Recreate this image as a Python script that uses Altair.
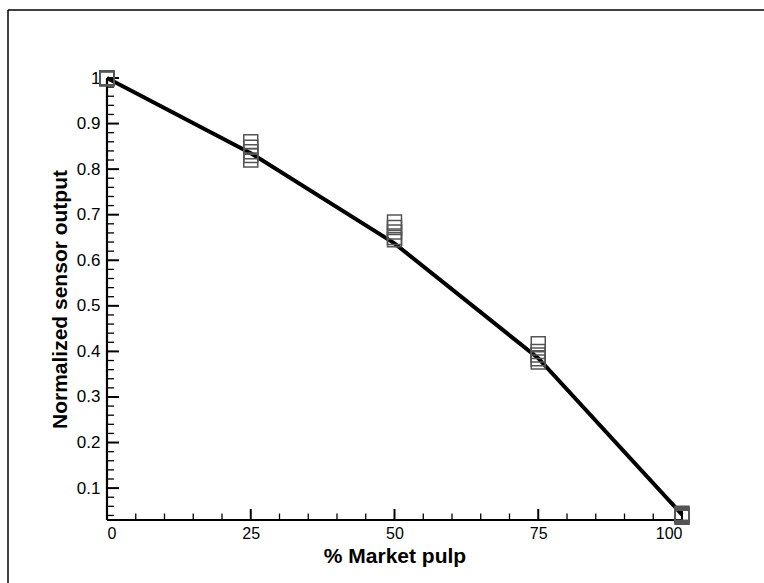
import altair as alt
import pandas as pd

# Replicate measurements of normalized sensor output at each pulp blend
pulp_levels = [0, 25, 50, 75, 100]
replicates = [
    [1.000, 1.000, 1.000, 0.999, 0.998],
    [0.860, 0.848, 0.838, 0.830, 0.820],
    [0.684, 0.672, 0.662, 0.650, 0.645],
    [0.417, 0.400, 0.392, 0.384, 0.377],
    [0.045, 0.042, 0.040, 0.038, 0.036],
]

# Trend line through the blends
trend_x = [0, 25, 50, 75, 100]
trend_y = [1.0, 0.835, 0.637, 0.385, 0.042]

# Tick positions
x_major = [0, 25, 50, 75, 100]
x_minor = [v for v in range(0, 101, 5) if v % 25 != 0]
y_major = [0.1, 0.2, 0.3, 0.4, 0.5, 0.6, 0.7, 0.8, 0.9, 1.0]
y_minor = [round(0.04 + 0.02 * i, 2) for i in range(48) if (4 + 2 * i) % 10 != 0]

W, H = 575, 442
FONT = "Liberation Sans"

pts = pd.DataFrame(
    [{"pulp": x, "out": v} for x, vals in zip(pulp_levels, replicates) for v in vals]
)
trend = pd.DataFrame({"pulp": trend_x, "out": trend_y})

xs = alt.Scale(domain=[0, 100], nice=False, zero=False)
ys = alt.Scale(domain=[0.03, 1.0], nice=False, zero=False)

x_axis = alt.Axis(
    values=x_major, ticks=False, domain=False, grid=False,
    labelFont=FONT, labelFontSize=16, labelColor="black", labelPadding=5,
    title="% Market pulp", titleFont=FONT, titleFontSize=21, titleFontWeight="bold",
    titleColor="black", titlePadding=4,
)
y_axis = alt.Axis(
    values=y_major, ticks=False, domain=False, grid=False,
    labelExpr="datum.value == 1 ? '1' : format(datum.value, '.1f')",
    labelFont=FONT, labelFontSize=17, labelColor="black", labelPadding=7,
    title="Normalized sensor output", titleFont=FONT, titleFontSize=21,
    titleFontWeight="bold", titleColor="black", titlePadding=6,
)

base_axes = alt.Chart(trend).mark_point(opacity=0).encode(
    x=alt.X("pulp:Q", scale=xs, axis=x_axis),
    y=alt.Y("out:Q", scale=ys, axis=y_axis),
)

# Axis lines
x_line = alt.Chart(pd.DataFrame({"a": [0]})).mark_rule(color="black", strokeWidth=2.2).encode(
    x=alt.value(0), x2=alt.value(W), y=alt.value(H)
)
y_line = alt.Chart(pd.DataFrame({"a": [0]})).mark_rule(color="black", strokeWidth=2.2).encode(
    x=alt.value(0), y=alt.value(0), y2=alt.value(H)
)

# Inward ticks
xmaj = alt.Chart(pd.DataFrame({"t": x_major})).mark_rule(color="black", strokeWidth=2).encode(
    x=alt.X("t:Q", scale=xs), y=alt.value(H), y2=alt.value(H - 11)
)
xmin = alt.Chart(pd.DataFrame({"t": x_minor})).mark_rule(color="black", strokeWidth=1.3).encode(
    x=alt.X("t:Q", scale=xs), y=alt.value(H), y2=alt.value(H - 6.5)
)
ymaj = alt.Chart(pd.DataFrame({"t": y_major})).mark_rule(color="black", strokeWidth=2).encode(
    y=alt.Y("t:Q", scale=ys), x=alt.value(0), x2=alt.value(12)
)
ymin = alt.Chart(pd.DataFrame({"t": y_minor})).mark_rule(color="black", strokeWidth=1.3).encode(
    y=alt.Y("t:Q", scale=ys), x=alt.value(0), x2=alt.value(7)
)

line = alt.Chart(trend).mark_line(color="black", strokeWidth=4, clip=False).encode(
    x=alt.X("pulp:Q", scale=xs), y=alt.Y("out:Q", scale=ys)
)
markers = alt.Chart(pts).mark_point(
    shape="square", filled=False, size=196, color="#555555", strokeWidth=1.5,
    opacity=1, clip=False,
).encode(x=alt.X("pulp:Q", scale=xs), y=alt.Y("out:Q", scale=ys))

# Page frame on the left and top
frame_left = alt.Chart(pd.DataFrame({"a": [0]})).mark_rule(color="black", strokeWidth=1.5).encode(
    x=alt.value(-99), y=alt.value(-68), y2=alt.value(505)
)
frame_top = alt.Chart(pd.DataFrame({"a": [0]})).mark_rule(color="black", strokeWidth=1.5).encode(
    y=alt.value(-68), x=alt.value(-99), x2=alt.value(657)
)

chart = alt.layer(
    frame_left, frame_top, base_axes, xmin, ymin, xmaj, ymaj, x_line, y_line, line, markers
).properties(
    width=W, height=H,
    autosize=alt.AutoSizeParams(type="none"),
    padding={"left": 107, "top": 78, "right": 82, "bottom": 63},
    background="white",
).configure_view(stroke=None)

chart.save("out.html", embed_options={"renderer": "svg", "actions": False})
